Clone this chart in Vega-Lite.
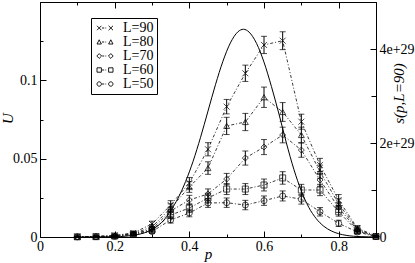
{
  "$schema": "https://vega.github.io/schema/vega-lite/v6.json",
  "width": 336,
  "height": 235,
  "autosize": "none",
  "padding": {"left": 40, "top": 2, "right": 39, "bottom": 26},
  "config": {
    "view": {"stroke": "#000", "strokeWidth": 1},
    "font": "Liberation Serif",
    "axis": {
      "domain": false, "grid": false, "ticks": true, "tickColor": "#000", "tickWidth": 1,
      "labelColor": "#000", "labelFont": "Liberation Serif", "labelFontSize": 14,
      "titleFont": "Liberation Serif", "titleFontWeight": "normal", "titleColor": "#000",
      "titleFontStyle": "italic", "titleFontSize": 15,
      "labelFlush": false, "labelOverlap": false
    }
  },
  "datasets": {
    "u": [
      {"L": "L=90", "p": 0.1, "U": 0.0002, "e": 0.0003},
      {"L": "L=90", "p": 0.15, "U": 0.0004, "e": 0.0004},
      {"L": "L=90", "p": 0.2, "U": 0.001, "e": 0.0006},
      {"L": "L=90", "p": 0.25, "U": 0.0026, "e": 0.001},
      {"L": "L=90", "p": 0.3, "U": 0.0083, "e": 0.0018},
      {"L": "L=90", "p": 0.35, "U": 0.0204, "e": 0.0028},
      {"L": "L=90", "p": 0.4, "U": 0.0345, "e": 0.0035},
      {"L": "L=90", "p": 0.45, "U": 0.056, "e": 0.0042},
      {"L": "L=90", "p": 0.5, "U": 0.0832, "e": 0.0046},
      {"L": "L=90", "p": 0.55, "U": 0.1045, "e": 0.0052},
      {"L": "L=90", "p": 0.6, "U": 0.1226, "e": 0.0055},
      {"L": "L=90", "p": 0.65, "U": 0.1253, "e": 0.0057},
      {"L": "L=90", "p": 0.7, "U": 0.0736, "e": 0.0048},
      {"L": "L=90", "p": 0.75, "U": 0.046, "e": 0.0042},
      {"L": "L=90", "p": 0.8, "U": 0.0236, "e": 0.0035},
      {"L": "L=90", "p": 0.85, "U": 0.0057, "e": 0.0016},
      {"L": "L=90", "p": 0.9, "U": 0.0006, "e": 0.0005},
      {"L": "L=80", "p": 0.1, "U": 0.0002, "e": 0.0003},
      {"L": "L=80", "p": 0.15, "U": 0.0003, "e": 0.0004},
      {"L": "L=80", "p": 0.2, "U": 0.0008, "e": 0.0005},
      {"L": "L=80", "p": 0.25, "U": 0.0022, "e": 0.0009},
      {"L": "L=80", "p": 0.3, "U": 0.0064, "e": 0.0016},
      {"L": "L=80", "p": 0.35, "U": 0.0185, "e": 0.0026},
      {"L": "L=80", "p": 0.4, "U": 0.0319, "e": 0.0034},
      {"L": "L=80", "p": 0.45, "U": 0.044, "e": 0.004},
      {"L": "L=80", "p": 0.5, "U": 0.0709, "e": 0.0055},
      {"L": "L=80", "p": 0.55, "U": 0.0734, "e": 0.0055},
      {"L": "L=80", "p": 0.6, "U": 0.0892, "e": 0.0065},
      {"L": "L=80", "p": 0.65, "U": 0.0798, "e": 0.006},
      {"L": "L=80", "p": 0.7, "U": 0.0651, "e": 0.005},
      {"L": "L=80", "p": 0.75, "U": 0.0417, "e": 0.0042},
      {"L": "L=80", "p": 0.8, "U": 0.0211, "e": 0.0032},
      {"L": "L=80", "p": 0.85, "U": 0.0051, "e": 0.0015},
      {"L": "L=80", "p": 0.9, "U": 0.0004, "e": 0.0004},
      {"L": "L=70", "p": 0.1, "U": 0.0001, "e": 0.0002},
      {"L": "L=70", "p": 0.15, "U": 0.0003, "e": 0.0003},
      {"L": "L=70", "p": 0.2, "U": 0.0006, "e": 0.0005},
      {"L": "L=70", "p": 0.25, "U": 0.0019, "e": 0.0008},
      {"L": "L=70", "p": 0.3, "U": 0.0051, "e": 0.0014},
      {"L": "L=70", "p": 0.35, "U": 0.0166, "e": 0.0024},
      {"L": "L=70", "p": 0.4, "U": 0.0236, "e": 0.003},
      {"L": "L=70", "p": 0.45, "U": 0.0275, "e": 0.0032},
      {"L": "L=70", "p": 0.5, "U": 0.037, "e": 0.0036},
      {"L": "L=70", "p": 0.55, "U": 0.0504, "e": 0.0045},
      {"L": "L=70", "p": 0.6, "U": 0.0574, "e": 0.0048},
      {"L": "L=70", "p": 0.65, "U": 0.0651, "e": 0.005},
      {"L": "L=70", "p": 0.7, "U": 0.0555, "e": 0.0046},
      {"L": "L=70", "p": 0.75, "U": 0.0364, "e": 0.004},
      {"L": "L=70", "p": 0.8, "U": 0.0187, "e": 0.003},
      {"L": "L=70", "p": 0.85, "U": 0.0045, "e": 0.0014},
      {"L": "L=70", "p": 0.9, "U": 0.0004, "e": 0.0004},
      {"L": "L=60", "p": 0.1, "U": 0.0001, "e": 0.0002},
      {"L": "L=60", "p": 0.15, "U": 0.0002, "e": 0.0003},
      {"L": "L=60", "p": 0.2, "U": 0.0006, "e": 0.0004},
      {"L": "L=60", "p": 0.25, "U": 0.0019, "e": 0.0008},
      {"L": "L=60", "p": 0.3, "U": 0.0045, "e": 0.0013},
      {"L": "L=60", "p": 0.35, "U": 0.014, "e": 0.0022},
      {"L": "L=60", "p": 0.4, "U": 0.0185, "e": 0.0027},
      {"L": "L=60", "p": 0.45, "U": 0.0249, "e": 0.003},
      {"L": "L=60", "p": 0.5, "U": 0.0306, "e": 0.0035},
      {"L": "L=60", "p": 0.55, "U": 0.0306, "e": 0.0035},
      {"L": "L=60", "p": 0.6, "U": 0.0332, "e": 0.0038},
      {"L": "L=60", "p": 0.65, "U": 0.0377, "e": 0.004},
      {"L": "L=60", "p": 0.7, "U": 0.03, "e": 0.0036},
      {"L": "L=60", "p": 0.75, "U": 0.03, "e": 0.0036},
      {"L": "L=60", "p": 0.8, "U": 0.0161, "e": 0.0028},
      {"L": "L=60", "p": 0.85, "U": 0.0038, "e": 0.0013},
      {"L": "L=60", "p": 0.9, "U": 0.0003, "e": 0.0003},
      {"L": "L=50", "p": 0.1, "U": 0.0001, "e": 0.0002},
      {"L": "L=50", "p": 0.15, "U": 0.0002, "e": 0.0002},
      {"L": "L=50", "p": 0.2, "U": 0.0004, "e": 0.0004},
      {"L": "L=50", "p": 0.25, "U": 0.0016, "e": 0.0007},
      {"L": "L=50", "p": 0.3, "U": 0.0035, "e": 0.0012},
      {"L": "L=50", "p": 0.35, "U": 0.0109, "e": 0.002},
      {"L": "L=50", "p": 0.4, "U": 0.0153, "e": 0.0024},
      {"L": "L=50", "p": 0.45, "U": 0.0217, "e": 0.0028},
      {"L": "L=50", "p": 0.5, "U": 0.0219, "e": 0.003},
      {"L": "L=50", "p": 0.55, "U": 0.0204, "e": 0.003},
      {"L": "L=50", "p": 0.6, "U": 0.0232, "e": 0.003},
      {"L": "L=50", "p": 0.65, "U": 0.0262, "e": 0.0032},
      {"L": "L=50", "p": 0.7, "U": 0.0241, "e": 0.0031},
      {"L": "L=50", "p": 0.75, "U": 0.0161, "e": 0.0027},
      {"L": "L=50", "p": 0.8, "U": 0.0087, "e": 0.002},
      {"L": "L=50", "p": 0.85, "U": 0.0032, "e": 0.0011},
      {"L": "L=50", "p": 0.9, "U": 0.0003, "e": 0.0003}
    ],
    "s": [
      {"p": 0.1, "s": 0}, {"p": 0.15, "s": 0.0005}, {"p": 0.2, "s": 0.005},
      {"p": 0.23, "s": 0.018}, {"p": 0.25, "s": 0.036}, {"p": 0.27, "s": 0.067},
      {"p": 0.29, "s": 0.121}, {"p": 0.31, "s": 0.207}, {"p": 0.33, "s": 0.342},
      {"p": 0.35, "s": 0.56}, {"p": 0.37, "s": 0.83}, {"p": 0.39, "s": 1.18},
      {"p": 0.41, "s": 1.61}, {"p": 0.43, "s": 2.12}, {"p": 0.45, "s": 2.68},
      {"p": 0.47, "s": 3.24}, {"p": 0.49, "s": 3.74}, {"p": 0.51, "s": 4.13},
      {"p": 0.53, "s": 4.365}, {"p": 0.545, "s": 4.42}, {"p": 0.56, "s": 4.36},
      {"p": 0.58, "s": 4.12}, {"p": 0.6, "s": 3.72}, {"p": 0.62, "s": 3.2},
      {"p": 0.64, "s": 2.62}, {"p": 0.66, "s": 2.0}, {"p": 0.68, "s": 1.44},
      {"p": 0.7, "s": 0.98}, {"p": 0.72, "s": 0.63}, {"p": 0.74, "s": 0.39},
      {"p": 0.76, "s": 0.23}, {"p": 0.78, "s": 0.13}, {"p": 0.8, "s": 0.07},
      {"p": 0.82, "s": 0.035}, {"p": 0.84, "s": 0.016}, {"p": 0.86, "s": 0.007},
      {"p": 0.88, "s": 0.003}, {"p": 0.9, "s": 0.001}
    ]
  },
  "layer": [
    {
      "data": {"name": "u"},
      "encoding": {
        "x": {
          "field": "p", "type": "quantitative",
          "scale": {"domain": [0, 0.9], "nice": false, "zero": false},
          "axis": {
            "orient": "bottom",
            "values": [0, 0.1, 0.2, 0.3, 0.4, 0.5, 0.6, 0.7, 0.8, 0.9],
            "labelExpr": "(round(datum.value*10)%2==0 && datum.value<0.85) ? format(datum.value, '.1~f') : ''",
            "tickSize": {"condition": {"test": "round(datum.value*10)%2==0", "value": -6}, "value": -3},
            "labelPadding": 8,
            "title": "p", "titleY": 21, "titleBaseline": "alphabetic"
          }
        },
        "y": {
          "field": "U", "type": "quantitative",
          "scale": {"domain": [0, 0.15], "nice": false},
          "axis": {
            "orient": "left",
            "values": [0, 0.025, 0.05, 0.075, 0.1, 0.125, 0.15],
            "labelExpr": "datum.value==0 ? '0' : (abs(datum.value-0.05)<1e-6 ? '0.05' : (abs(datum.value-0.1)<1e-6 ? '0.1' : ''))",
            "tickSize": {"condition": {"test": "abs(datum.value*20-round(datum.value*20))<1e-6", "value": -6}, "value": -3},
            "labelPadding": 9,
            "title": "U", "titleAngle": 270, "titleX": -33, "titleY": 116, "titleBaseline": "middle", "titleAlign": "center"
          }
        }
      },
      "layer": [
        {
          "mark": {"type": "line", "color": "#222", "strokeWidth": 0.9, "strokeDash": [3, 2, 1, 2]},
          "encoding": {"detail": {"field": "L"}}
        },
        {
          "mark": {"type": "errorbar", "ticks": {"size": 6, "color": "#000"}, "rule": {"color": "#000", "strokeWidth": 1}},
          "encoding": {"yError": {"field": "e"}}
        },
        {
          "mark": {"type": "point", "filled": false, "color": "#000", "strokeWidth": 1, "size": 36},
          "encoding": {
            "shape": {
              "field": "L", "type": "nominal",
              "scale": {
                "domain": ["L=90", "L=80", "L=70", "L=60", "L=50"],
                "range": ["M-1,-1L1,1M-1,1L1,-1", "triangle-up", "diamond", "square", "circle"]
              },
              "legend": null
            }
          }
        },
        {
          "mark": {"type": "point", "filled": false, "color": "#000", "opacity": 0, "size": 64},
          "encoding": {
            "shape": {
              "field": "L", "type": "nominal",
              "scale": {
                "domain": ["L=90", "L=80", "L=70", "L=60", "L=50"],
                "range": [
                  "M-2,-0.55L-0.9,0.55M-2,0.55L-0.9,-0.55M-0.75,0L-0.2,0M0.1,0L0.3,0M0.9,-0.55L2,0.55M0.9,0.55L2,-0.55",
                  "M-2,0.5L-1.45,-0.55L-0.9,0.5ZM-0.75,0L-0.2,0M0.1,0L0.3,0M0.9,0.5L1.45,-0.55L2,0.5Z",
                  "M-2.05,0L-1.45,-0.6L-0.85,0L-1.45,0.6ZM-0.7,0L-0.2,0M0.1,0L0.3,0M0.85,0L1.45,-0.6L2.05,0L1.45,0.6Z",
                  "M-2,-0.55H-0.9V0.55H-2ZM-0.75,0L-0.2,0M0.1,0L0.3,0M0.9,-0.55H2V0.55H0.9Z",
                  "M-0.9,0A0.55,0.55,0,1,1,-2,0A0.55,0.55,0,1,1,-0.9,0ZM-0.75,0L-0.2,0M0.1,0L0.3,0M2,0A0.55,0.55,0,1,1,0.9,0A0.55,0.55,0,1,1,2,0Z"
                ]
              },
              "legend": {
                "orient": "none", "legendX": 51, "legendY": 16, "title": null,
                "symbolSize": 64, "symbolStrokeWidth": 0.9, "symbolStrokeColor": "#000",
                "symbolFillColor": "transparent", "symbolOpacity": 1,
                "strokeColor": "#000", "fillColor": "#fff", "padding": 3, "rowPadding": -2,
                "labelOffset": 11, "symbolOffset": 4,
                "labelFont": "Liberation Serif", "labelFontSize": 14, "labelColor": "#000"
              }
            }
          }
        }
      ],
      "resolve": {"scale": {"shape": "independent"}}
    },
    {
      "data": {"name": "s"},
      "mark": {"type": "line", "color": "#000", "strokeWidth": 1, "interpolate": "monotone"},
      "encoding": {
        "x": {
          "field": "p", "type": "quantitative",
          "axis": {
            "orient": "top",
            "values": [0, 0.1, 0.2, 0.3, 0.4, 0.5, 0.6, 0.7, 0.8, 0.9],
            "labels": false, "title": null,
            "tickSize": {"condition": {"test": "round(datum.value*10)%2==0", "value": -6}, "value": -3}
          }
        },
        "y": {
          "field": "s", "type": "quantitative",
          "scale": {"domain": [0, 5], "nice": false},
          "axis": {
            "orient": "right",
            "values": [0, 1, 2, 3, 4, 5],
            "labelExpr": "datum.value==0 ? '0' : (datum.value==2 ? '2e+29' : (datum.value==4 ? '4e+29' : ''))",
            "tickSize": {"condition": {"test": "datum.value%2==0", "value": -6}, "value": -5},
            "labelPadding": 9,
            "title": "s(p,L=90)", "titleAngle": 270, "titleX": 22, "titleY": 91, "titleBaseline": "middle", "titleAlign": "center"
          }
        }
      }
    }
  ],
  "resolve": {"scale": {"y": "independent"}, "axis": {"x": "independent", "y": "independent"}}
}
